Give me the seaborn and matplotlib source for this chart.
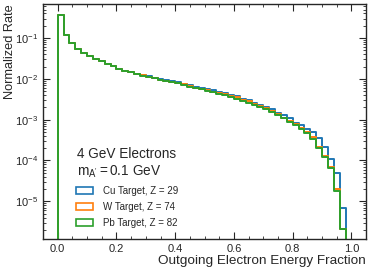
import numpy as np
import pandas as pd
import matplotlib
matplotlib.use("Agg")
import matplotlib.pyplot as plt
from matplotlib.patches import Patch
from matplotlib.ticker import LogLocator, MultipleLocator, NullFormatter
import seaborn as sns

# Bin edges: 50 bins of width 0.02 on [0, 1]
edges = np.round(np.arange(0, 1.0001, 0.02), 2)
centers = (edges[:-1] + edges[1:]) / 2

# Normalized rate per bin
cu_rate = [0.36, 0.12, 0.075, 0.055, 0.044, 0.036, 0.031, 0.027, 0.023, 0.0205,
           0.0178, 0.016, 0.0147, 0.0133, 0.0123, 0.0115, 0.0107, 0.0098, 0.0092, 0.0088,
           0.0083, 0.0076, 0.0070, 0.0064, 0.0060, 0.0056, 0.0052, 0.0048, 0.0044, 0.0040,
           0.0037, 0.0033, 0.0030, 0.0026, 0.0023, 0.0020, 0.0018, 0.00148, 0.00129, 0.00107,
           0.00083, 0.00074, 0.00058, 0.0005, 0.00035, 0.00022, 0.000107, 4.8e-5, 6.9e-6, 0.0]
w_rate = [0.37, 0.12, 0.075, 0.055, 0.044, 0.036, 0.031, 0.027, 0.023, 0.0205,
          0.0176, 0.0159, 0.0145, 0.0131, 0.0121, 0.0113, 0.0104, 0.0095, 0.0089, 0.0085,
          0.0080, 0.0073, 0.0067, 0.0061, 0.0057, 0.0053, 0.0049, 0.0045, 0.0042, 0.0038,
          0.0035, 0.0031, 0.0028, 0.0024, 0.0022, 0.0019, 0.00165, 0.00136, 0.00113, 0.00094,
          0.00078, 0.00062, 0.00049, 0.00037, 0.00022, 0.00013, 7.1e-5, 2.0e-5, 2.1e-6, 0.0]
pb_rate = [0.37, 0.12, 0.075, 0.055, 0.044, 0.036, 0.031, 0.027, 0.023, 0.0205,
           0.0175, 0.0158, 0.0144, 0.0130, 0.0120, 0.0112, 0.0103, 0.0094, 0.0088, 0.0084,
           0.0078, 0.0071, 0.0065, 0.0059, 0.0055, 0.0051, 0.0047, 0.0043, 0.0040, 0.0036,
           0.0033, 0.0029, 0.0026, 0.0023, 0.0021, 0.0018, 0.00155, 0.00129, 0.00107, 0.00089,
           0.00074, 0.00058, 0.00046, 0.00033, 0.00020, 0.00012, 6.5e-5, 1.8e-5, 2.1e-6, 0.0]

labels = ["Cu Target, Z = 29", "W Target, Z = 74", "Pb Target, Z = 82"]
colors = ["#1f77b4", "#ff7f0e", "#2ca02c"]

sns.set_style("ticks")
plt.rcParams["font.family"] = ["Liberation Sans", "DejaVu Sans"]
plt.rcParams["mathtext.fontset"] = "custom"
plt.rcParams["mathtext.rm"] = "Liberation Sans"
plt.rcParams["mathtext.it"] = "Liberation Sans:italic"

fig = plt.figure(figsize=(3.74, 2.73), dpi=100)
ax = fig.add_axes([0.115, 0.125, 0.864, 0.86])

# one empty bin below 0 so the step rises from the floor at x = 0
for rate, col in zip([cu_rate, w_rate, pb_rate], colors):
    df = pd.DataFrame({"x": centers, "w": rate})
    sns.histplot(data=df, x="x", weights="w", binwidth=0.02, binrange=(-0.02, 1),
                 element="step", fill=False, color=col, linewidth=1.4, ax=ax)

ax.set_yscale("log")
ax.set_xlim(-0.05, 1.05)
ax.set_ylim(1.2e-6, 0.68)

ax.xaxis.set_major_locator(MultipleLocator(0.2))
ax.xaxis.set_minor_locator(MultipleLocator(0.05))
ax.yaxis.set_major_locator(LogLocator(base=10, numticks=20))
ax.yaxis.set_minor_locator(LogLocator(base=10, subs=np.arange(2, 10), numticks=20))
ax.yaxis.set_minor_formatter(NullFormatter())
ax.tick_params(which="both", direction="in", top=True, right=True, labelsize=8)
ax.tick_params(which="major", length=5, width=0.8)
ax.tick_params(which="minor", length=2.5, width=0.6)
for s in ax.spines.values():
    s.set_linewidth(1.0)

ax.set_xlabel("Outgoing Electron Energy Fraction", fontsize=9.7, loc="right", labelpad=1)
ax.set_ylabel("Normalized Rate", fontsize=9.2, loc="top")
ax.yaxis.set_label_coords(-0.085, 1.0)

handles = [Patch(facecolor="none", edgecolor=c, linewidth=1.2) for c in colors]
leg = ax.legend(handles, labels, title="4 GeV Electrons\n$\\mathrm{m_{A'}}=0.1$ GeV",
                loc="lower left", bbox_to_anchor=(0.075, 0.01), frameon=False,
                fontsize=7, title_fontsize=9.8,
                handlelength=1.75, handleheight=0.75, handletextpad=1.0,
                labelspacing=0.6)
leg.get_title().set_multialignment("left")

fig.savefig("out.png", dpi=100)
